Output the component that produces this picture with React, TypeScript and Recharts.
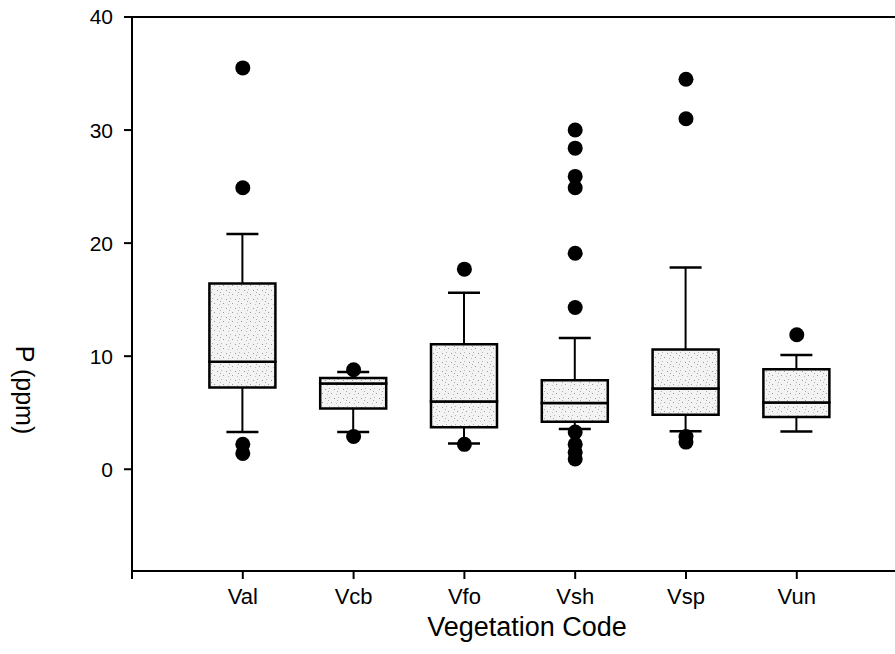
import React from 'react'
import { ComposedChart, Bar, Scatter, XAxis, YAxis, ReferenceLine, Label } from 'recharts'

// Vegetation codes along the x axis
const categories = ['Val', 'Vcb', 'Vfo', 'Vsh', 'Vsp', 'Vun']

// box stats (ppm)
const whiskerLow = [3.3, 3.3, 2.27, 3.57, 3.36, 3.33]
const q1 = [7.23, 5.37, 3.72, 4.19, 4.81, 4.63]
const median = [9.5, 7.58, 6.0, 5.87, 7.14, 5.9]
const q3 = [16.43, 8.08, 11.06, 7.88, 10.6, 8.85]
const whiskerHigh = [20.8, 8.6, 15.6, 11.6, 17.85, 10.1]

// outliers per category
const outliers = [
  [35.5, 24.9, 2.2, 1.4],
  [8.8, 2.9],
  [17.7, 2.2],
  [30.0, 28.4, 25.9, 24.9, 19.1, 14.3, 3.3, 2.2, 1.5, 0.9],
  [34.5, 31.0, 2.9, 2.4],
  [11.9],
]

const yTicks = [0, 10, 20, 30, 40]
const xTicks = [0, 1, 2, 3, 4, 5, 6]

const FONT = "'Liberation Sans', Arial, sans-serif"

const boxData = categories.map((c, i) => ({
  pos: i + 1,
  name: c,
  base: whiskerLow[i],
  lowW: q1[i] - whiskerLow[i],
  lowBox: median[i] - q1[i],
  upBox: q3[i] - median[i],
  upW: whiskerHigh[i] - q3[i],
}))

const outlierData = outliers.flatMap((vals, i) => vals.map(v => ({ pos: i + 1, p: v })))

const CAP = 16

const LowWhisker = (props: any) => {
  const { x, y, width, height } = props
  const cx = x + width / 2
  const yb = y + height
  return (
    <g>
      <line x1={cx} y1={y} x2={cx} y2={yb} stroke="#000" strokeWidth={2} />
      <line x1={cx - CAP} y1={yb} x2={cx + CAP} y2={yb} stroke="#000" strokeWidth={2.5} />
    </g>
  )
}

const HighWhisker = (props: any) => {
  const { x, y, width, height } = props
  const cx = x + width / 2
  return (
    <g>
      <line x1={cx} y1={y} x2={cx} y2={y + height} stroke="#000" strokeWidth={2} />
      <line x1={cx - CAP} y1={y} x2={cx + CAP} y2={y} stroke="#000" strokeWidth={2.5} />
    </g>
  )
}

const Dot = (props: any) => <circle cx={props.cx} cy={props.cy} r={7.5} fill="#000" />

const Empty = () => null

export default function App() {
  return (
    <div style={{ position: 'absolute', left: 0, top: 0, background: '#fff' }}>
      <ComposedChart
        width={900}
        height={654}
        data={boxData}
        margin={{ top: 17, right: 3.5, bottom: 0, left: 0 }}
      >
        <defs>
          <pattern id="stip" width="9" height="9" patternUnits="userSpaceOnUse">
            <rect width="9" height="9" fill="#f3f3f3" />
            <rect x="1" y="2" width="1" height="1" fill="#9a9a9a" />
            <rect x="5" y="1" width="1" height="1" fill="#b5b5b5" />
            <rect x="7" y="6" width="1" height="1" fill="#9a9a9a" />
            <rect x="3" y="7" width="1" height="1" fill="#c0c0c0" />
            <rect x="4" y="4" width="1" height="1" fill="#aaaaaa" />
          </pattern>
        </defs>
        <XAxis
          dataKey="pos"
          type="number"
          domain={[0, 6.9]}
          allowDataOverflow
          ticks={xTicks}
          tickFormatter={(v: number) => categories[v - 1] ?? ''}
          height={83}
          tickSize={8}
          tickMargin={9}
          axisLine={{ stroke: '#000', strokeWidth: 2 }}
          tickLine={{ stroke: '#000', strokeWidth: 2 }}
          tick={{ fill: '#000', fontSize: 22, fontFamily: FONT }}
        >
          <Label
            content={(props: any) => {
              const vb = props.viewBox
              return (
                <text x={vb.x + 395} y={vb.y + 56} textAnchor="middle" dominantBaseline="central"
                  fontSize={27} fontFamily={FONT} fill="#000">
                  Vegetation Code
                </text>
              )
            }}
          />
        </XAxis>
        <YAxis
          type="number"
          domain={[-9, 40]}
          allowDataOverflow
          ticks={yTicks}
          width={132}
          tickSize={8}
          tickMargin={11}
          axisLine={{ stroke: '#000', strokeWidth: 2 }}
          tickLine={{ stroke: '#000', strokeWidth: 2 }}
          tick={{ fill: '#000', fontSize: 21, fontFamily: FONT }}
        >
          <Label
            content={(props: any) => {
              const vb = props.viewBox
              const x = vb.x + 25
              const y = vb.y + 373
              return (
                <text x={x} y={y} transform={`rotate(90 ${x} ${y})`} textAnchor="middle"
                  dominantBaseline="central" fontSize={25} fontFamily={FONT} fill="#000">
                  P (ppm)
                </text>
              )
            }}
          />
        </YAxis>
        <ReferenceLine y={40} stroke="#000" strokeWidth={2} />
        <Bar dataKey="base" stackId="b" barSize={66} fill="none" shape={Empty} isAnimationActive={false} />
        <Bar dataKey="lowW" stackId="b" barSize={66} shape={LowWhisker} isAnimationActive={false} />
        <Bar dataKey="lowBox" stackId="b" barSize={66} fill="url(#stip)" stroke="#000" strokeWidth={2.5} isAnimationActive={false} />
        <Bar dataKey="upBox" stackId="b" barSize={66} fill="url(#stip)" stroke="#000" strokeWidth={2.5} isAnimationActive={false} />
        <Bar dataKey="upW" stackId="b" barSize={66} shape={HighWhisker} isAnimationActive={false} />
        <Scatter data={outlierData} dataKey="p" shape={Dot} isAnimationActive={false} />
      </ComposedChart>
    </div>
  )
}
